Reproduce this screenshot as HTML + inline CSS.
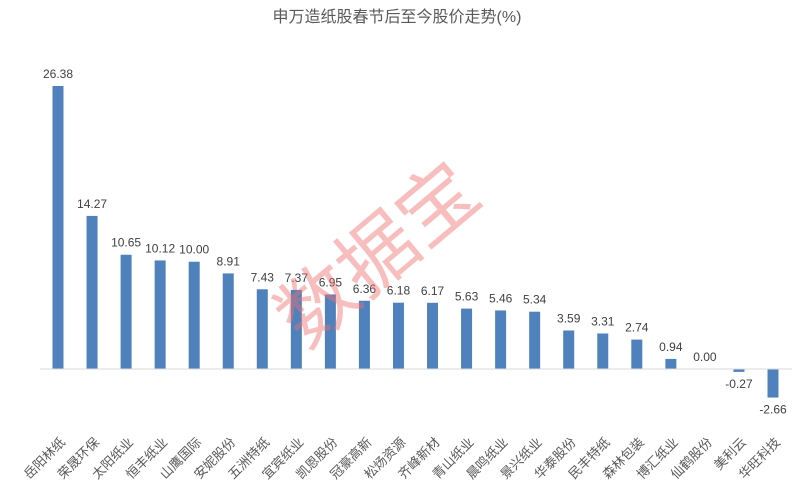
<!DOCTYPE html>
<html><head><meta charset="utf-8"><style>
body{margin:0;background:#fff;}
svg{display:block;font-family:"Liberation Sans","Noto Sans CJK SC",sans-serif;}
</style></head><body>
<svg id="chart" width="794" height="488">
<text x="397" y="22" text-anchor="middle" font-size="16" fill="#595959">申万造纸股春节后至今股价走势(%)</text>
<g id="bars"></g>
<line x1="40" x2="792" y1="369" y2="369" stroke="#d9d9d9"/>
<text x="0" y="0" transform="translate(395,275) rotate(-40)" text-anchor="middle" font-size="78" fill="rgba(240,110,110,0.45)">数据宝</text>
</svg>
<script>
const categories=["岳阳林纸","荣晟环保","太阳纸业","恒丰纸业","山鹰国际","安妮股份","五洲特纸","宜宾纸业","凯恩股份","冠豪高新","松炀资源","齐峰新材","青山纸业","晨鸣纸业","景兴纸业","华泰股份","民丰特纸","森林包装","博汇纸业","仙鹤股份","美利云","华旺科技"];
const values=[26.38,14.27,10.65,10.12,10.00,8.91,7.43,7.37,6.95,6.36,6.18,6.17,5.63,5.46,5.34,3.59,3.31,2.74,0.94,0.00,-0.27,-2.66];
const labels=["26.38","14.27","10.65","10.12","10.00","8.91","7.43","7.37","6.95","6.36","6.18","6.17","5.63","5.46","5.34","3.59","3.31","2.74","0.94","0.00","-0.27","-2.66"];
const NS="http://www.w3.org/2000/svg";
const g=document.getElementById('bars');
const zeroY=369, scale=283/26.38;
function x(i){return 58+i*(773-58)/(categories.length-1);}
function y(v){return zeroY-v*scale;}
const bw=11;
categories.forEach((c,i)=>{
  const v=values[i];
  const r=document.createElementNS(NS,'rect');
  r.setAttribute('x',x(i)-bw/2);
  r.setAttribute('y',Math.min(y(v),zeroY));
  r.setAttribute('width',bw);
  r.setAttribute('height',Math.abs(y(v)-zeroY));
  r.setAttribute('fill','#4f81bd');
  
  
  g.appendChild(r);
  const t=document.createElementNS(NS,'text');
  t.setAttribute('x',x(i));
  t.setAttribute('y',v>=0?y(v)-8:y(v)+16);
  t.setAttribute('text-anchor','middle');
  t.setAttribute('font-size','12');
  t.setAttribute('fill','#404040');
  t.textContent=labels[i];
  
  
  g.appendChild(t);
  const l=document.createElementNS(NS,'text');
  l.setAttribute('transform','translate('+(x(i)+8)+',443) rotate(-45)');
  l.setAttribute('text-anchor','end');
  l.setAttribute('font-size','13');
  l.setAttribute('fill','#595959');
  l.textContent=c;
  
  
  g.appendChild(l);
});
</script>
</body></html>
